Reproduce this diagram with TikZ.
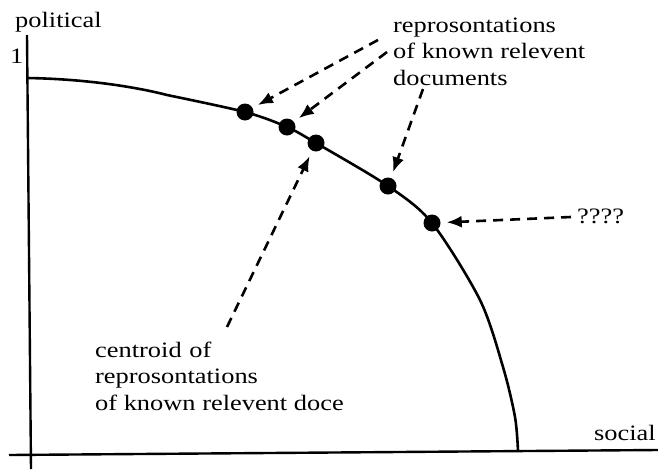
\documentclass[tikz,border=0pt]{standalone}
\usepackage{fontspec}
\setmainfont{Liberation Serif}[FakeStretch=1.2]
\usetikzlibrary{arrows.meta}
\begin{document}
\begin{tikzpicture}[x=1pt,y=-1pt,
  lbl/.style={anchor=base west,inner sep=0pt,align=left,font=\fontsize{22}{26.7}\selectfont},
  dot/.style={circle,fill=black,inner sep=0pt,minimum size=17pt},
  ptr/.style={dashed,dash pattern=on 10pt off 7pt,line width=2.6pt,shorten >=6pt,
    -{Latex[length=15pt,width=12pt]}},
  axis/.style={line width=2.4pt},
  curv/.style={line width=2.6pt}]
\useasboundingbox (0,0) rectangle (658,469);
% axes
\coordinate (vtop) at (27,35);
\coordinate (vbot) at (31,469);
\coordinate (hl) at (9,455);
\coordinate (hr) at (658,450);
\draw[axis] (vtop) -- (vbot);
\draw[axis] (hl) -- (hr);
% labels of axes
\node[lbl] (pol) at (15,27) {political};
\node[lbl] (one) at (10,63) {1};
\node[lbl] (soc) at (594,440) {social};
% curve
\draw[curv] (27,78) .. controls (90,79) and (140,88) .. (167,95)
  plot[smooth,tension=0.5] coordinates {(167,95) (245,112) (287,127) (316,143) (388,186) (432,223) (480,300) (503,367) (515,417) (518,451)};
% dots
\node[dot] (d1) at (245,112) {};
\node[dot] (d2) at (287,127) {};
\node[dot] (d3) at (316,143) {};
\node[dot] (d4) at (388,186) {};
\node[dot] (d5) at (432,223) {};
% texts (base anchor = baseline of last line)
\node[lbl] (known) at (393,85.4) {reprosontations\\of known relevent\\documents};
\node[lbl] (q) at (577,223) {????};
\node[lbl] (cent) at (95,410.4) {centroid\hspace{0.35em}of\\reprosontations\\of known relevent doce};
% arrow start points
\coordinate (s1) at (378,40);
\coordinate (s2) at (387,52);
\coordinate (s3) at (423,89);
\coordinate (s4) at (571,217);
\coordinate (s5) at (227,327);
\draw[ptr] (s1) -- (d1);
\draw[ptr] (s2) -- (d2);
\draw[ptr] (s3) -- (d4);
\draw[ptr] (s4) -- (d5);
\draw[ptr] (s5) -- (d3);
\end{tikzpicture}
\end{document}
